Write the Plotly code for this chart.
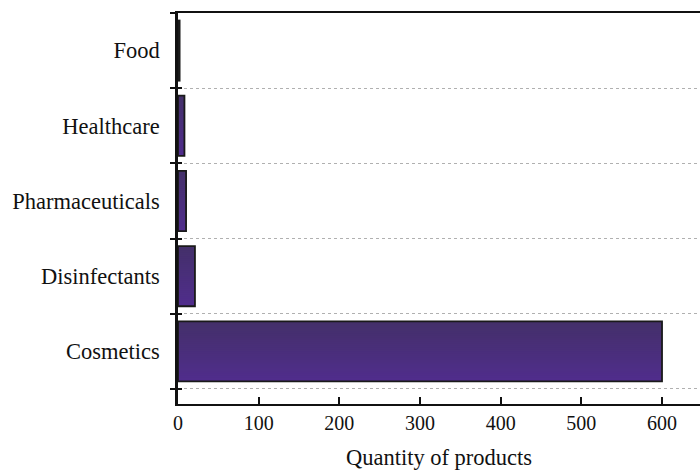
import plotly.graph_objects as go

categories = ["Cosmetics", "Disinfectants", "Pharmaceuticals", "Healthcare", "Food"]
quantities = [600, 21, 10, 8, 2]
x_ticks = [0, 100, 200, 300, 400, 500, 600]

top_color = (0x44, 0x30, 0x6a)
bottom_color = (0x50, 0x2d, 0x8c)
bar_width = 0.8
n_strips = 30

fig = go.Figure()
# vertical gradient: overlapping layers, each reaching the top edge of the bar
for i in range(n_strips):
    t = i / (n_strips - 1)
    c = tuple(round(bottom_color[k] + (top_color[k] - bottom_color[k]) * t) for k in range(3))
    off = -bar_width / 2 + i * bar_width / n_strips
    fig.add_trace(go.Bar(
        y=categories, x=quantities, orientation="h",
        width=bar_width / 2 - off,
        offset=off,
        marker=dict(color="rgb(%d,%d,%d)" % c, line=dict(width=0)),
        hoverinfo="skip", showlegend=False,
    ))
# outline (on an overlaying axis that carries inner tick marks)
fig.add_trace(go.Bar(
    y=categories, x=quantities, orientation="h",
    width=bar_width, offset=-bar_width / 2, yaxis="y2",
    marker=dict(color="rgba(0,0,0,0)", line=dict(color="#1a1a1a", width=1.8)),
    showlegend=False,
))

font_family = "Liberation Serif, Times New Roman, serif"
fig.update_layout(
    width=700, height=470,
    margin=dict(l=178, r=0, t=13, b=66),
    plot_bgcolor="white", paper_bgcolor="white",
    barmode="overlay",
    font=dict(family=font_family, size=20, color="#111111"),
    xaxis=dict(
        range=[0, 647.1], tickvals=x_ticks, automargin=False,
        ticks="inside", ticklen=7, tickwidth=1.5, tickcolor="#111111",
        showline=True, linecolor="#111111", linewidth=2, mirror=True,
        showgrid=False, zeroline=False,
        title=dict(text="Quantity of products", font=dict(size=22.5), standoff=18),
        tickfont=dict(size=20),
    ),
    yaxis=dict(
        type="category", range=[-0.7, 4.5], automargin=False,
        categoryorder="array", categoryarray=categories,
        tickson="boundaries",
        ticks="outside", ticklen=5, tickwidth=1.5, tickcolor="#111111",
        showline=True, linecolor="#111111", linewidth=2.5, mirror=False,
        showgrid=True, gridcolor="#b0b0b0", griddash="dot", gridwidth=1,
        zeroline=False, tickfont=dict(size=22.5), ticklabelstandoff=11,
    ),
    yaxis2=dict(
        type="category", range=[-0.7, 4.5], overlaying="y", side="left",
        categoryorder="array", categoryarray=categories,
        tickson="boundaries", automargin=False,
        ticks="inside", ticklen=4, tickwidth=1.5, tickcolor="#111111",
        showticklabels=False, showgrid=False, showline=False, zeroline=False,
    ),
)

fig.write_html("out.html", config={"displayModeBar": False},
               post_script="document.body.style.margin='0';")
